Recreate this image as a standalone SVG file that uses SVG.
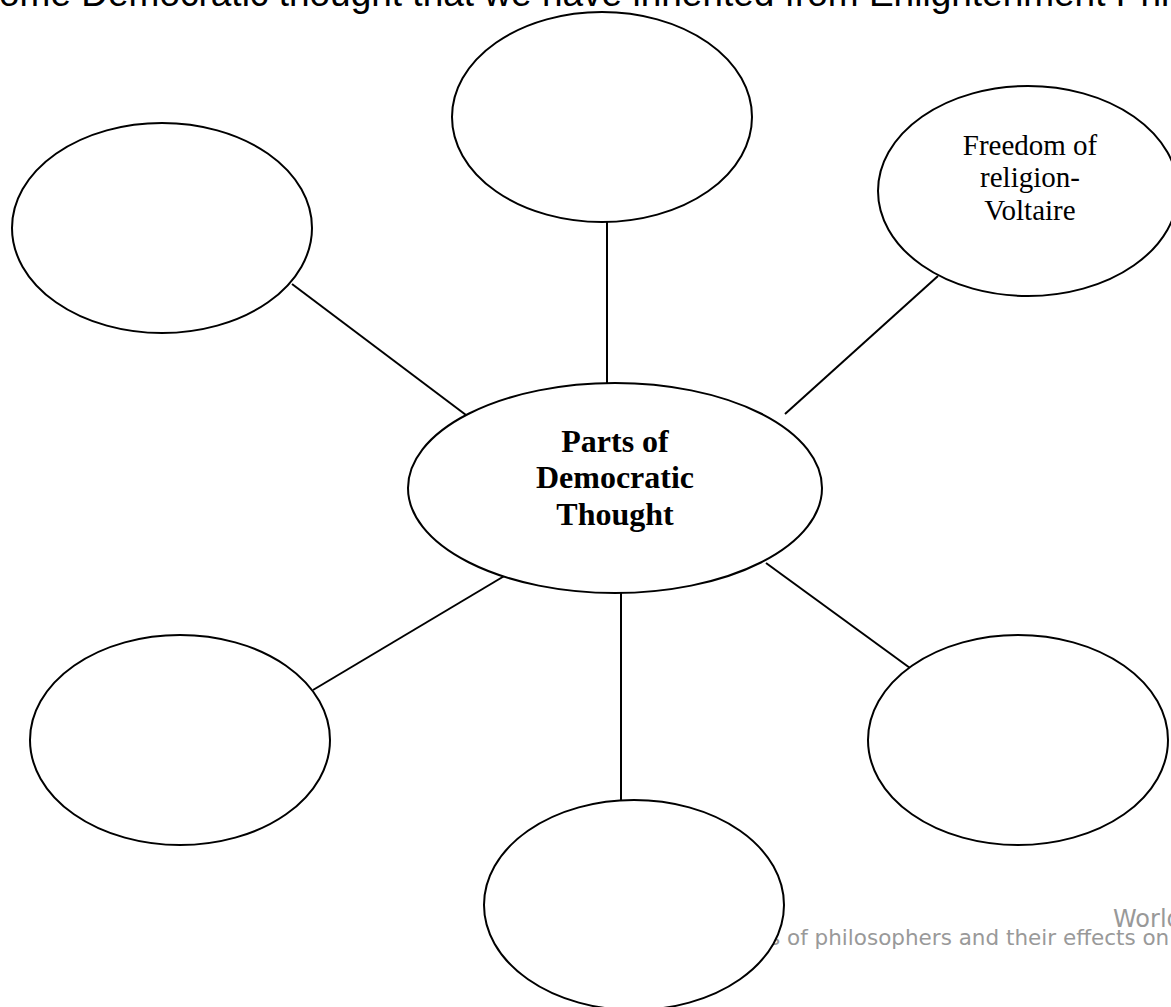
<svg xmlns="http://www.w3.org/2000/svg" width="1171" height="1007" viewBox="0 0 1171 1007">
<style>
.node ellipse{fill:#fff;stroke:#000;stroke-width:2}
.conn line{stroke:#000;stroke-width:2}
.lbl{font-family:"Liberation Serif","Times New Roman",serif;fill:#000;text-anchor:middle}
.hub{font-weight:bold;font-size:32px}
.leaf{font-size:29px}
.title{font-family:"Liberation Sans",Arial,sans-serif;font-size:37px;fill:#000}
.foot{font-family:"DejaVu Sans",Verdana,sans-serif;font-size:21.5px;fill:#999}
</style>
<rect width="1171" height="1007" fill="#fff"/>
<text class="title" x="-1" y="6">ome Democratic thought that we have inherited from Enlightenment Phi</text>
<text class="foot" x="1113" y="927" style="font-size:24px">World</text>
<text class="foot" x="769" y="945">s of philosophers and their effects on</text>
<g class="conn" id="connectors">
<line x1="607" y1="222" x2="607" y2="383"/>
<line x1="292" y1="284" x2="466" y2="415"/>
<line x1="938" y1="276" x2="785" y2="414"/>
<line x1="506" y1="575" x2="313" y2="690"/>
<line x1="621" y1="592" x2="621" y2="802"/>
<line x1="766" y1="563" x2="910" y2="668"/>
</g>
<g class="node" id="node-center">
<ellipse cx="615" cy="488" rx="207" ry="105"/>
<text class="lbl hub" x="615" y="452">Parts of</text>
<text class="lbl hub" x="615" y="488">Democratic</text>
<text class="lbl hub" x="615" y="525">Thought</text>
</g>
<g class="node" id="node-top"><ellipse cx="602" cy="117" rx="150" ry="105"/></g>
<g class="node" id="node-top-left"><ellipse cx="162" cy="228" rx="150" ry="105"/></g>
<g class="node" id="node-top-right">
<ellipse cx="1028" cy="191" rx="150" ry="105"/>
<text class="lbl leaf" x="1030" y="155">Freedom of</text>
<text class="lbl leaf" x="1030" y="187">religion-</text>
<text class="lbl leaf" x="1030" y="220">Voltaire</text>
</g>
<g class="node" id="node-bottom-left"><ellipse cx="180" cy="740" rx="150" ry="105"/></g>
<g class="node" id="node-bottom-right"><ellipse cx="1018" cy="740" rx="150" ry="105"/></g>
<g class="node" id="node-bottom"><ellipse cx="634" cy="905" rx="150" ry="105"/></g>
</svg>
